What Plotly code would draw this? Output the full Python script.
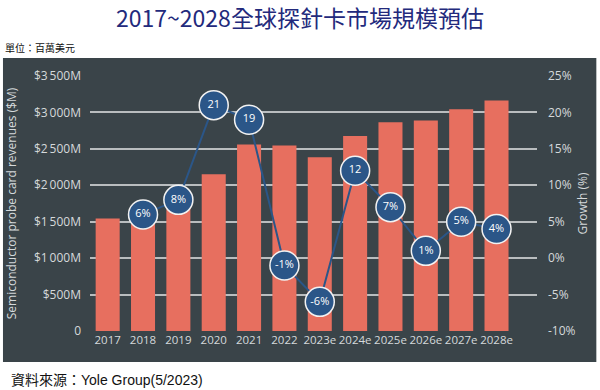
import plotly.graph_objects as go

years = ["2017", "2018", "2019", "2020", "2021", "2022", "2023e", "2024e", "2025e", "2026e", "2027e", "2028e"]
revenue = [1545, 1650, 1780, 2150, 2560, 2545, 2385, 2675, 2865, 2890, 3045, 3165]
growth_years = years[1:]
growth = [6, 8, 21, 19, -1, -6, 12, 7, 1, 5, 4]
growth_labels = ["6%", "8%", "21", "19", "-1%", "-6%", "12", "7%", "1%", "5%", "4%"]
left_ticks = [0, 500, 1000, 1500, 2000, 2500, 3000, 3500]
left_ticktext = ["0", "$500M", "$1\u2009000M", "$1\u2009500M", "$2\u2009000M", "$2\u2009500M", "$3\u2009000M", "$3\u2009500M"]
right_ticks = [-10, -5, 0, 5, 10, 15, 20, 25]
right_ticktext = ["-10%", "-5%", "0%", "5%", "10%", "15%", "20%", "25%"]

W, H = 600, 390
ml, mr, mt, mb = 88, 60, 76, 59
pw, ph = W - ml - mr, H - mt - mb

def px_x(p):
    return (p - ml) / pw

def px_y(p):
    return (H - mb - p) / ph

BG = "#3a4449"
TICK = "#d5d9db"
FONT = "Open Sans"

fig = go.Figure()
fig.add_trace(go.Bar(x=years, y=revenue, marker=dict(color="#e76f5f", line=dict(width=0)),
                     yaxis="y", hoverinfo="x+y"))
fig.add_trace(go.Scatter(x=growth_years, y=growth, yaxis="y2", mode="lines+markers+text",
                         text=growth_labels, textposition="middle center",
                         textfont=dict(color="white", size=11, family=FONT),
                         line=dict(color="#2b5688", width=2),
                         marker=dict(size=29, color="#2b5688", line=dict(color="#f2f2f2", width=1.5))))

fig.update_layout(
    width=W, height=H,
    margin=dict(l=ml, r=mr, t=mt, b=mb),
    paper_bgcolor="white", plot_bgcolor="rgba(0,0,0,0)",
    showlegend=False, bargap=0.32,
    font=dict(family=FONT, color=TICK),
    xaxis=dict(type="category", showgrid=False, zeroline=False, showline=False,
               tickfont=dict(size=11.5, color=TICK), ticks=""),
    yaxis=dict(range=[0, 3500], tickvals=left_ticks, ticktext=left_ticktext,
               showgrid=True, gridcolor="#b9bdbf", gridwidth=1.5, zeroline=False,
               tickfont=dict(size=12, color=TICK), ticks="", ticklabelstandoff=8,
               title=dict(text="Semiconductor probe card revenues ($M)", font=dict(size=12, color=TICK), standoff=14)),
    yaxis2=dict(range=[-10, 25], tickvals=right_ticks, ticktext=right_ticktext, overlaying="y", side="right",
                showgrid=False, zeroline=False, tickfont=dict(size=12, color=TICK), ticks="",
                ticklabelstandoff=10,
                title=dict(text="Growth (%)", font=dict(size=12, color=TICK), standoff=4)),
    shapes=[dict(type="rect", xref="paper", yref="paper", x0=px_x(0), x1=px_x(W), y0=px_y(362), y1=px_y(58),
                 fillcolor=BG, line=dict(width=0), layer="below")],
    annotations=[
        dict(text="2017~2028全球探針卡市場規模預估", xref="paper", yref="paper", x=px_x(300), y=px_y(17),
             xanchor="center", yanchor="middle", showarrow=False,
             font=dict(family="Noto Sans CJK TC", size=23, color="#232a7c")),
        dict(text="單位：百萬美元", xref="paper", yref="paper", x=px_x(0), y=px_y(48),
             xanchor="left", yanchor="middle", showarrow=False,
             font=dict(family="Noto Sans CJK TC", size=10, color="#111111")),
        dict(text="資料來源：Yole Group(5/2023)", xref="paper", yref="paper", x=px_x(6), y=px_y(380),
             xanchor="left", yanchor="middle", showarrow=False,
             font=dict(family="Liberation Sans, Noto Sans CJK TC", size=14, color="#111111")),
    ],
)

fig.write_html("out.html", config={"displayModeBar": False},
               post_script="document.body.style.margin='0';document.body.style.overflow='hidden';")
